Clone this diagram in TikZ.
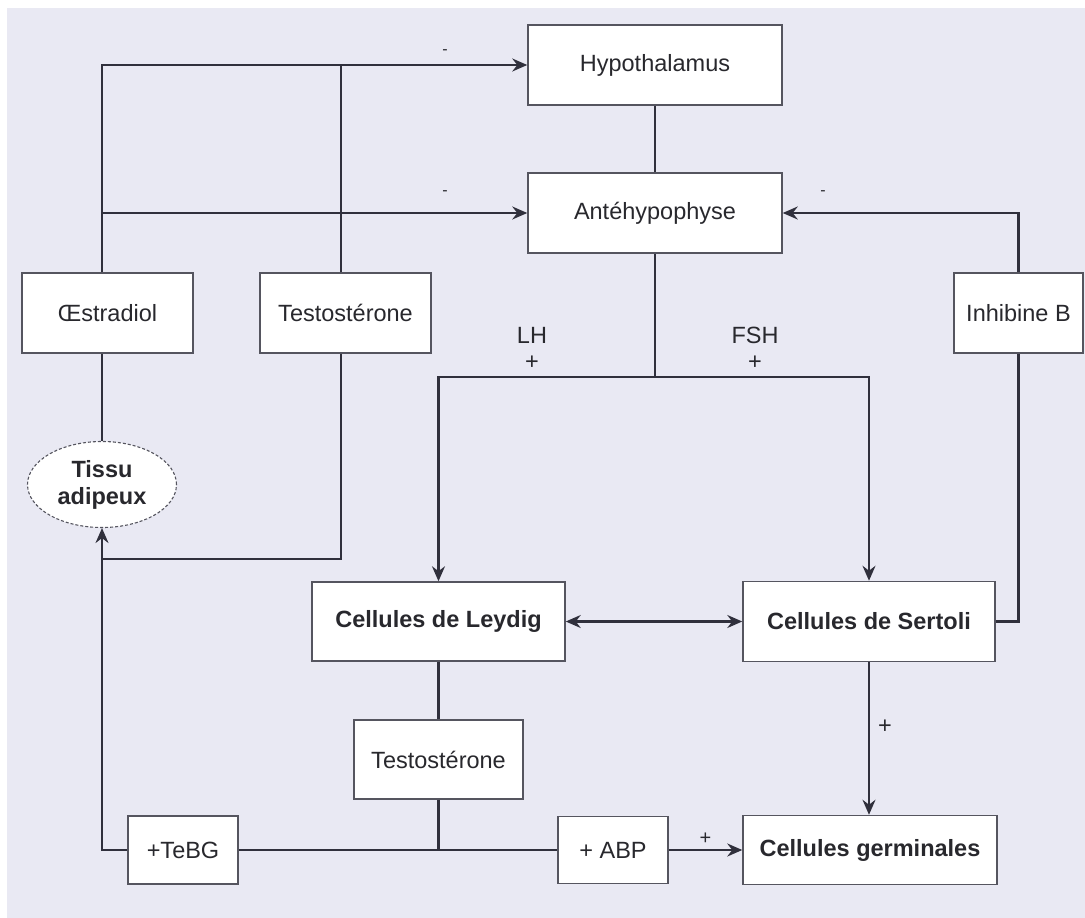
\documentclass[tikz,border=0pt]{standalone}
\usepackage{fontspec}
\setmainfont{Liberation Sans}
\usepackage{tikz}
\usetikzlibrary{positioning, calc, shapes.geometric, arrows.meta}

\definecolor{bgLavender}{RGB}{233, 233, 243}
\definecolor{lineDark}{RGB}{48, 48, 60}
\definecolor{boxEdge}{RGB}{85, 85, 95}
\definecolor{textDark}{RGB}{40, 40, 45}

\begin{document}
\begin{tikzpicture}[
    x=1pt, y=-1pt,
    font=\fontsize{23.5}{27}\selectfont, text=textDark,
    hbox/.style={rectangle, draw=boxEdge, fill=white, line width=1.5pt,
                 inner sep=0pt, align=center},
    cellbox/.style={hbox, font=\fontsize{23.5}{27}\selectfont\bfseries},
    tissue/.style={ellipse, draw=boxEdge, dash pattern=on 3pt off 2pt, fill=white,
                   line width=1.1pt, inner sep=0pt, align=center,
                   font=\fontsize{23.5}{27}\selectfont\bfseries},
    link/.style={draw=lineDark, line width=2.2pt},
    flow/.style={link, -{Stealth[length=15pt, width=13pt, inset=5pt]}},
    sign/.style={font=\fontsize{16}{16}\selectfont, inner sep=0pt},
  ]
    \useasboundingbox (0,0) rectangle (1085,918);
    \fill[white] (0,0) rectangle (1085,918);
    \fill[bgLavender] (7,8) rectangle (1085,918);

    % axe hypothalamo-hypophysaire
    \node[hbox, minimum width=254pt, minimum height=80pt] (HYPO) at (655,65) {Hypothalamus};
    \node[hbox, minimum width=254pt, minimum height=80pt] (ANTE) at (655,213) {Antéhypophyse};

    % hormones de retour
    \node[hbox, minimum width=171pt, minimum height=80pt] (OESTR) at (107.5,313) {Œstradiol};
    \node[hbox, minimum width=171pt, minimum height=80pt] (TESTA) at (345.5,313) {Testostérone};
    \node[hbox, minimum width=129pt, minimum height=80pt] (INHIB) at (1018.5,313) {Inhibine B};
    \node[tissue, minimum width=149pt, minimum height=86pt] (TISSU) at (102,484.5) {Tissu\\adipeux};

    % testicule
    \node[cellbox, minimum width=253pt, minimum height=79pt] (LEYDIG) at (438.5,621.5) {Cellules de Leydig};
    \node[cellbox, minimum width=252pt, minimum height=80pt] (SERTOLI) at (869,621.5) {Cellules de Sertoli};
    \node[hbox, minimum width=169pt, minimum height=79pt] (TESTB) at (438.5,759.5) {Testostérone};
    \node[hbox, minimum width=110pt, minimum height=68pt] (TEBG) at (183,850) {+TeBG};
    \node[hbox, minimum width=110pt, minimum height=67pt] (ABP) at (613,850) {+ ABP};
    \node[cellbox, minimum width=254pt, minimum height=69pt] (GERM) at (870,850) {Cellules germinales};

    \coordinate (OE) at ([xshift=-5.5pt]OESTR.north);
    \coordinate (OS) at ([xshift=-5.5pt]OESTR.south);
    \coordinate (TN) at ([xshift=-4.5pt]TESTA.north);
    \coordinate (TS) at ([xshift=-4.5pt]TESTA.south);
    \coordinate (FORK) at (655,377);
    \coordinate (JOIN) at (102,559);

    % retrocontroles negatifs
    \draw[flow] (OE) |- (HYPO.west);
    \draw[flow] (OE |- ANTE.west) -- (ANTE.west);
    \draw[link] (TN) -- (TN |- HYPO.west);
    \draw[flow] (INHIB.north) |- (ANTE.east);
    \node[sign] at (445,52) {-};
    \node[sign] at (445,193) {-};
    \node[sign] at (823,193) {-};

    \draw[link] (HYPO.south) -- (ANTE.north);
    \draw[link] (ANTE.south) -- (FORK);
    \draw[flow] (FORK) -| (LEYDIG.north);
    \draw[flow] (FORK) -| (SERTOLI.north);
    \node at (532,335) {LH};
    \node at (532,363) {+};
    \node at (755,335) {FSH};
    \node at (755,363) {+};

    % aromatisation
    \draw[link] (OS) -- (TISSU.north);
    \draw[link] (TS) |- (JOIN);
    \draw[flow] (TEBG.west) -| (TISSU.south);

    \draw[link, {Stealth[length=15pt, width=13pt, inset=5pt]}-{Stealth[length=15pt, width=13pt, inset=5pt]}]
      (LEYDIG.east) -- (SERTOLI.west);
    \draw[link] (SERTOLI.east) -| (INHIB.south);
    \draw[link] (LEYDIG.south) -- (TESTB.north);
    \draw[link] (TESTB.south) -- (TESTB.south |- TEBG.east);
    \draw[link] (TEBG.east) -- (ABP.west);
    \draw[flow] (ABP.east) -- node[above=4pt, sign, font=\fontsize{20}{20}\selectfont] {+} (GERM.west);
    \draw[flow] (SERTOLI.south) -- (SERTOLI.south |- GERM.north);
    \node at (885,727) {+};
  \end{tikzpicture}
\end{document}
